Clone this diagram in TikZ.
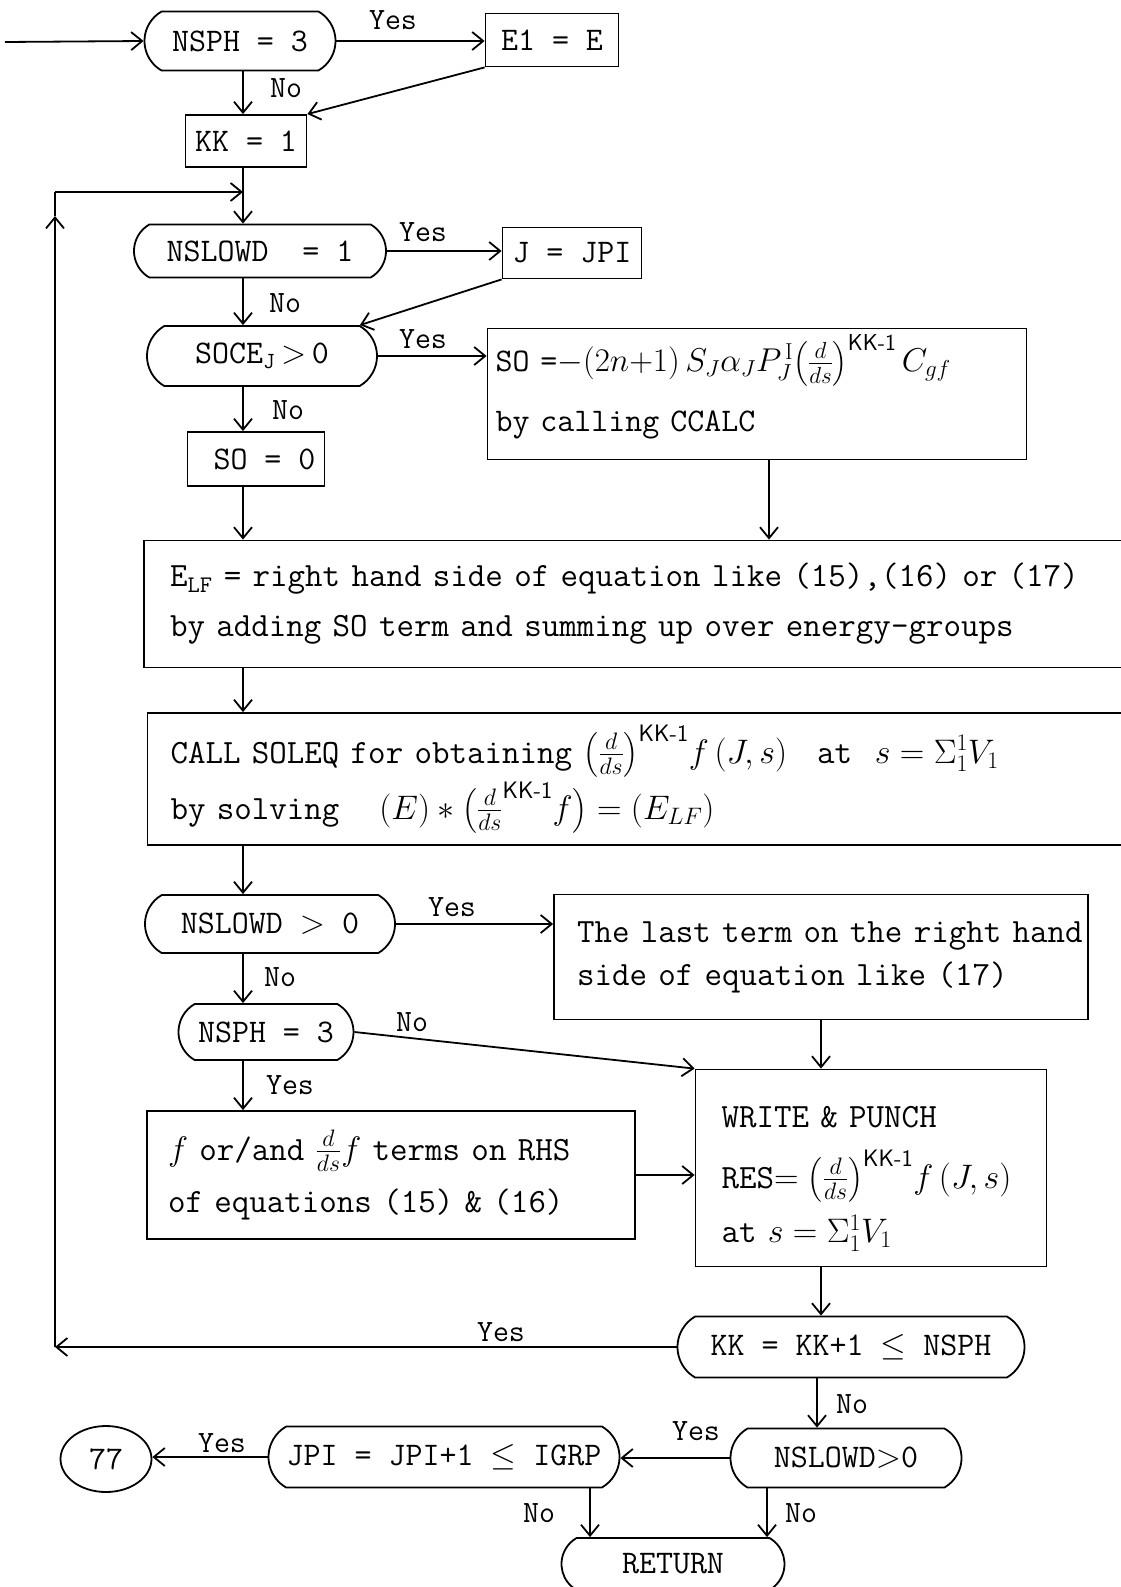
\RequirePackage{fix-cm}
\documentclass[tikz,border=0pt]{standalone}
\usepackage{amsmath}
\usepackage{tikz}
\usetikzlibrary{arrows.meta,shapes.misc,shapes.geometric}

\newcommand{\dds}{\bigl(\tfrac{d}{ds}\bigr)}
\newcommand{\kkm}{^{\textsf{KK-1}}}
\newcommand{\atpos}{$s=\Sigma_1^{1}V_1$}

\begin{document}
\begin{tikzpicture}[x=1pt,y=-1pt,line width=1.8pt,
	every node/.style={font=\fontsize{33}{40}\selectfont\ttfamily},
	>={Straight Barb[length=11pt,width=18pt]},
	test/.style={draw,rounded rectangle,rounded rectangle arc length=120,inner sep=0pt},
	proc/.style={draw,rectangle,inner sep=0pt},
	para/.style={draw,rectangle,align=left,inner ysep=0pt,font=\fontsize{34}{40}\selectfont\ttfamily},
	lbl/.style={inner sep=0pt,font=\fontsize{31}{34}\selectfont\ttfamily}]
	\useasboundingbox (0,0) rectangle (1120,1587);
	\coordinate (start) at (5,42);
	\coordinate (col) at (243,0);
	\coordinate (socol) at (769,0);
	\coordinate (nocol) at (817,0);
	\coordinate (reta) at (590,0);
	\coordinate (retb) at (767,0);
	\coordinate (lb) at (55,1347);
	\coordinate (lu) at (55,216);
	\coordinate (lt) at (55,192);
	
	% first decisions
	\node[test,minimum width=191pt,minimum height=59pt] (nsph) at (240,41) {NSPH = 3};
	\node[proc,minimum width=133pt,minimum height=53pt] (eone) at (552,40) {E1 = E};
	\node[proc,minimum width=121pt,minimum height=52pt] (kkone) at (246,141) {KK = 1};
	\node[test,minimum width=252pt,minimum height=53pt] (slowa) at (260,251) {NSLOWD\ \ = 1};
	\node[proc,minimum width=139pt,minimum height=51pt] (jpi) at (572,253) {J = JPI};
	\node[test,minimum width=230pt,minimum height=60pt] (soce) at (262,356) {SOCE\textsubscript{J}\,$>$\,0};
	\node[para,minimum width=539pt,minimum height=131pt,text width=523pt,inner xsep=8pt,font=\fontsize{33}{40}\selectfont\ttfamily] (sobox) at (757,394) {\mbox{SO =$-(2n{+}1)\,S_{J}\alpha_{J}P_{J}^{\,\mathrm{I}}\dds\kkm\,C_{gf}$}\\[20pt] by calling CCALC\rule[-22pt]{0pt}{1pt}};
	\node[proc,minimum width=137pt,minimum height=54pt] (sozero) at (256,459) {\ SO = 0};
	
	% wide boxes
	\node[para,minimum width=978pt,minimum height=127pt,text width=926pt,inner xsep=26pt] (elf) at (633,604) {\mbox{E\textsubscript{LF} = right hand side of equation like (15),(16) or (17)}\\[10pt] \mbox{by adding SO term and summing up over energy-groups}};
	\node[para,minimum width=975pt,minimum height=132pt,text width=929pt,inner xsep=23pt] (soleq) at (635,779) {\mbox{CALL SOLEQ for obtaining $\dds\kkm f\,(J,s)$\hspace{30pt}at\ \ \atpos}\\[4pt] \mbox{by solving\hspace{40pt}$(E)*\bigl(\tfrac{d}{ds}\kkm f\bigr)=(E_{LF})$}};
	
	% second part
	\node[test,minimum width=250pt,minimum height=58pt] (slowb) at (270,924) {NSLOWD $>$ 0};
	\node[para,minimum width=534pt,minimum height=125pt,text width=488pt,inner xsep=23pt] (lastterm) at (821,957) {\mbox{The last term on the right hand}\\[3pt] side of equation like (17)};
	\node[test,minimum width=175pt,minimum height=56pt] (nsphb) at (266,1032) {NSPH = 3};
	\node[para,minimum width=488pt,minimum height=128pt,text width=446pt,inner xsep=21pt] (fterm) at (391,1175) {\mbox{$f$ or/and $\tfrac{d}{ds}f$ terms on RHS}\\[12pt] \mbox{of equations (15) \& (16)}};
	\node[para,minimum width=351pt,minimum height=197pt,text width=299pt,inner xsep=26pt] (write) at (871,1168) {\mbox{\rule{0pt}{42pt}WRITE \& PUNCH}\\[21pt] \mbox{RES$=\dds\kkm f\,(J,s)$}\\[12pt] \mbox{at \atpos}};
	\node[test,minimum width=347pt,minimum height=61pt] (kkinc) at (851,1347) {KK = KK+1 $\leq$ NSPH};
	\node[test,minimum width=231pt,minimum height=59pt] (slowc) at (846,1458) {NSLOWD$>$0};
	\node[test,minimum width=351pt,minimum height=61pt] (jpinc) at (444,1457) {JPI = JPI+1 $\leq$ IGRP};
	\node[draw,ellipse,minimum width=91pt,minimum height=66pt,inner sep=0pt] (cont) at (106,1459) {77};
	\node[test,minimum width=223pt,minimum height=52pt] (ret) at (673,1564) {RETURN};
	
	% labels
	\node[lbl] (ya) at (393,20) {Yes};
	\node[lbl] (na) at (286,88) {No};
	\node[lbl] (yb) at (423,232) {Yes};
	\node[lbl] (nb) at (285,303) {No};
	\node[lbl] (yc) at (423,339) {Yes};
	\node[lbl] (nc) at (288,410) {No};
	\node[lbl] (yd) at (452,907) {Yes};
	\node[lbl] (nd) at (280,977) {No};
	\node[lbl] (ne) at (412,1022) {No};
	\node[lbl] (ye) at (290,1085) {Yes};
	\node[lbl] (yf) at (501,1332) {Yes};
	\node[lbl] (nf) at (852,1404) {No};
	\node[lbl] (yg) at (696,1431) {Yes};
	\node[lbl] (yh) at (222,1443) {Yes};
	\node[lbl] (ng) at (539,1513) {No};
	\node[lbl] (nh) at (801,1513) {No};
	
	% connectors
	\draw[->] (start) -- (nsph.west);
	\draw[->] (nsph.east) -- (nsph.east -| eone.west);
	\draw[->] (nsph.south -| col) -- (kkone.north -| col);
	\draw[->] (eone.south west) -- (kkone.north east);
	\draw[->] (kkone.south -| col) -- (slowa.north -| col);
	\draw[->] (kkinc.west) -- (lb);
	\draw[->] (lb) -- (lu);
	\draw (lu) -- (lt);
	\draw[->] (lt) -- (lt -| col);
	\draw[->] (slowa.east) -- (slowa.east -| jpi.west);
	\draw[->] (slowa.south -| col) -- (soce.north -| col);
	\draw[->] (jpi.south west) -- (soce.north east);
	\draw[->] (soce.east) -- (soce.east -| sobox.west);
	\draw[->] (soce.south -| col) -- (sozero.north -| col);
	\draw[->] (sozero.south -| col) -- (elf.north -| col);
	\draw[->] (sobox.south -| socol) -- (elf.north -| socol);
	\draw[->] (elf.south -| col) -- (soleq.north -| col);
	\draw[->] (soleq.south -| col) -- (slowb.north -| col);
	\draw[->] (slowb.east) -- (slowb.east -| lastterm.west);
	\draw[->] (slowb.south -| col) -- (nsphb.north -| col);
	\draw[->] (nsphb.east) -- (write.north west);
	\draw[->] (lastterm.south) -- (lastterm.south |- write.north);
	\draw[->] (nsphb.south -| col) -- (fterm.north -| col);
	\draw[->] (fterm.east) -- (fterm.east -| write.west);
	\draw[->] (write.south -| lastterm.south) -- (kkinc.north -| lastterm.south);
	\draw[->] (kkinc.south -| nocol) -- (slowc.north -| nocol);
	\draw[->] (slowc.west) -- (slowc.west -| jpinc.east);
	\draw[->] (jpinc.west) -- (jpinc.west -| cont.east);
	\draw[->] (jpinc.south -| reta) -- (ret.north -| reta);
	\draw[->] (slowc.south -| retb) -- (ret.north -| retb);
\end{tikzpicture}
\end{document}
